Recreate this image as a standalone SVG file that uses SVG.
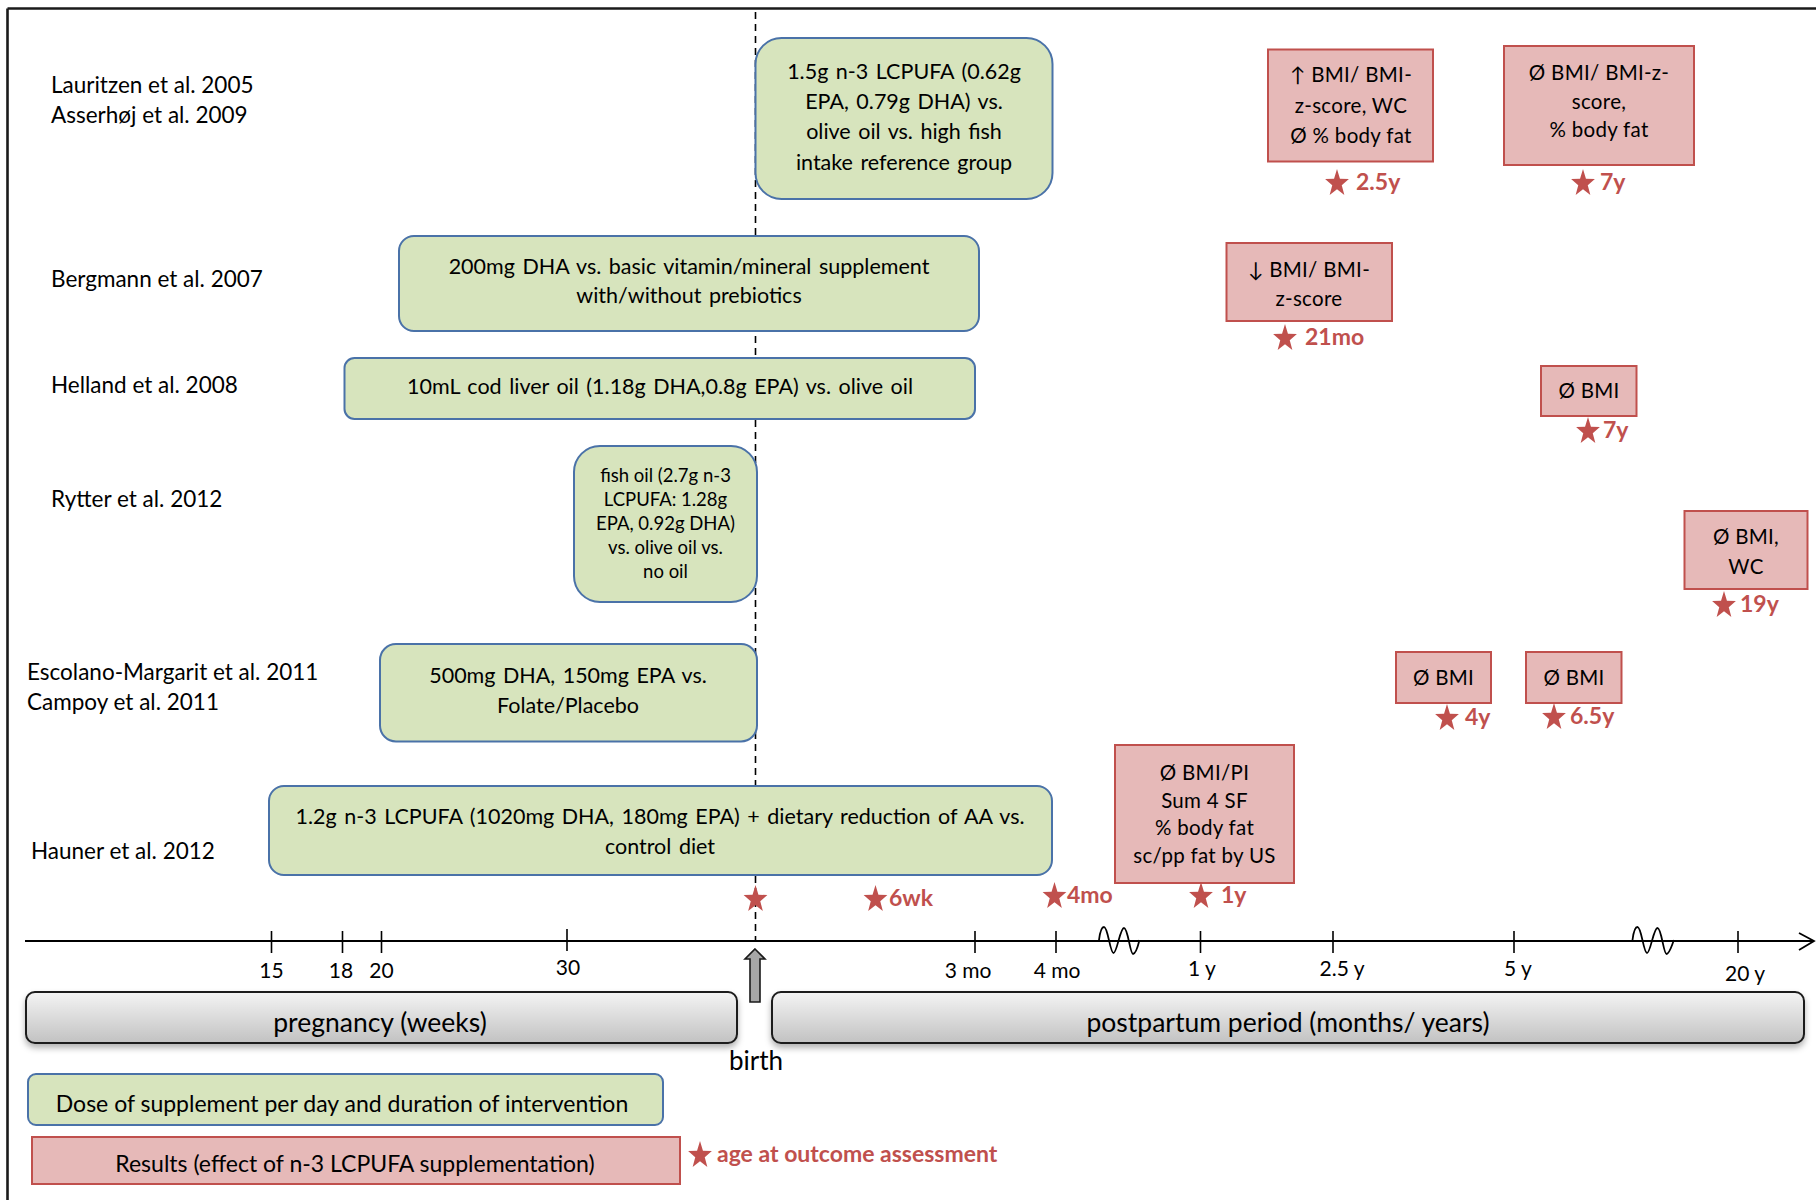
<svg xmlns="http://www.w3.org/2000/svg" width="1816" height="1200" viewBox="0 0 1816 1200">
<style>
text{font-family:Lato,"DejaVu Sans",sans-serif;fill:#000}
.lbl{font-size:22.5px}
.bx{font-size:21.5px;word-spacing:2px;text-anchor:middle}
.bxs{font-size:18.5px;text-anchor:middle}
.rb{font-size:20.5px;letter-spacing:0.3px;text-anchor:middle}
.st{font-size:23px;font-weight:bold;fill:#c0504d}
.tk{font-size:21px;text-anchor:middle}
.bar{font-size:26.5px;text-anchor:middle}
.lg{font-size:23px;text-anchor:middle}
.g{fill:#d7e4bd;stroke:#4a72a8;stroke-width:2}
.r{fill:#e6b9b8;stroke:#c0504d;stroke-width:2}
.tick{stroke:#000;stroke-width:1.6}
.pb{fill:url(#barg);stroke:#1a1a1a;stroke-width:2;filter:url(#sh)}
</style>
<defs>
<linearGradient id="barg" x1="0" y1="0" x2="0" y2="1">
<stop offset="0" stop-color="#f4f4f4"/>
<stop offset="1" stop-color="#c2c2c2"/>
</linearGradient>
<filter id="sh" x="-5%" y="-20%" width="110%" height="160%">
<feDropShadow dx="0" dy="4" stdDeviation="3" flood-color="#000" flood-opacity="0.3"/>
</filter>
<polygon id="star" fill="#c0504d" points="0,-13 2.94,-3.26 11.89,-3.04 4.76,3.18 7.35,13.03 0,7.15 -7.35,13.03 -4.76,3.18 -11.89,-3.04 -2.94,-3.26"/>
</defs>
<rect width="1816" height="1200" fill="#fff"/>
<!-- frame -->
<g id="frame" stroke="#1a1a1a" stroke-width="2.6" fill="none">
<line x1="7.5" y1="8.5" x2="1816" y2="8.5"/>
<line x1="7.5" y1="8.5" x2="7.5" y2="1200"/>
</g>
<!-- connectors / axis -->
<g id="connectors">
<line x1="755.5" y1="12" x2="755.5" y2="940" stroke="#000" stroke-width="1.6" stroke-dasharray="7,5"/>
<line x1="25" y1="941" x2="1813" y2="941" stroke="#000" stroke-width="2.2"/>
<polyline points="1799,933 1814,941 1799,950" fill="none" stroke="#000" stroke-width="1.8"/>
<g class="tick">
<line x1="271.5" y1="931" x2="271.5" y2="953"/>
<line x1="342.5" y1="931" x2="342.5" y2="953"/>
<line x1="381.5" y1="931" x2="381.5" y2="953"/>
<line x1="567" y1="929" x2="567" y2="951"/>
<line x1="975" y1="931" x2="975" y2="953"/>
<line x1="1056" y1="931" x2="1056" y2="953"/>
<line x1="1200.5" y1="931" x2="1200.5" y2="953"/>
<line x1="1333" y1="931" x2="1333" y2="953"/>
<line x1="1514" y1="931" x2="1514" y2="953"/>
<line x1="1738" y1="931" x2="1738" y2="953"/>
</g>
<path d="M1099,940 C1100,932 1102,927 1104,927 C1108,927 1110,953 1113.5,953 C1117,953 1120,928 1124,928 C1128,928 1130,954 1133,954 C1136,954 1138,946 1139.5,940" fill="none" stroke="#000" stroke-width="1.8"/>
<path d="M1632.5,940 C1633.5,932 1635.5,927 1637.5,927 C1641.5,927 1643.5,953 1647,953 C1650.5,953 1653.5,928 1657.5,928 C1661.5,928 1663.5,954 1666.5,954 C1669.5,954 1671.5,946 1674,940" fill="none" stroke="#000" stroke-width="1.8"/>
<polygon id="birth-arrow" points="755,949 765,959 760,959 760,1002 750,1002 750,959 745,959" fill="#a6a6a6" stroke="#1a1a1a" stroke-width="1.6"/>
</g>
<!-- tick labels -->
<g id="tick-labels">
<text class="tk" x="271.5" y="978">15</text>
<text class="tk" x="341" y="978">18</text>
<text class="tk" x="381.5" y="978">20</text>
<text class="tk" x="568" y="975">30</text>
<text class="tk" x="968" y="978">3 mo</text>
<text class="tk" x="1057" y="978">4 mo</text>
<text class="tk" x="1202" y="976">1 y</text>
<text class="tk" x="1342" y="976">2.5 y</text>
<text class="tk" x="1518" y="976">5 y</text>
<text class="tk" x="1745" y="981">20 y</text>
</g>
<!-- study labels -->
<g id="study-labels">
<text class="lbl" x="51" y="93">Lauritzen et al. 2005</text>
<text class="lbl" x="51" y="123">Asserhøj et al. 2009</text>
<text class="lbl" x="51" y="287">Bergmann et al. 2007</text>
<text class="lbl" x="51" y="393">Helland et al. 2008</text>
<text class="lbl" x="51" y="507">Rytter et al. 2012</text>
<text class="lbl" x="27" y="680">Escolano-Margarit et al. 2011</text>
<text class="lbl" x="27" y="710">Campoy et al. 2011</text>
<text class="lbl" x="31" y="859">Hauner et al. 2012</text>
</g>
<!-- intervention boxes -->
<g id="int-lauritzen">
<rect class="g" x="755.5" y="38" width="297" height="161" rx="26"/>
<text class="bx" x="904" y="79">1.5g n-3 LCPUFA (0.62g</text>
<text class="bx" x="904" y="109">EPA, 0.79g DHA) vs.</text>
<text class="bx" x="904" y="139">olive oil vs. high fish</text>
<text class="bx" x="904" y="170">intake reference group</text>
</g>
<g id="int-bergmann">
<rect class="g" x="399" y="236" width="580" height="95" rx="15"/>
<text class="bx" x="689" y="273.5">200mg DHA vs. basic vitamin/mineral supplement</text>
<text class="bx" x="689" y="303">with/without prebiotics</text>
</g>
<g id="int-helland">
<rect class="g" x="344.5" y="358" width="630.5" height="61" rx="10"/>
<text class="bx" x="660" y="394">10mL cod liver oil (1.18g DHA,0.8g EPA) vs. olive oil</text>
</g>
<g id="int-rytter">
<rect class="g" x="574" y="446" width="183" height="156" rx="26"/>
<text class="bxs" x="665.5" y="481.5">fish oil (2.7g n-3</text>
<text class="bxs" x="665.5" y="505.5">LCPUFA: 1.28g</text>
<text class="bxs" x="665.5" y="529.5">EPA, 0.92g DHA)</text>
<text class="bxs" x="665.5" y="553.5">vs. olive oil vs.</text>
<text class="bxs" x="665.5" y="578">no oil</text>
</g>
<g id="int-escolano">
<rect class="g" x="380" y="644" width="377" height="97.5" rx="16"/>
<text class="bx" x="568" y="683">500mg DHA, 150mg EPA vs.</text>
<text class="bx" x="568" y="713">Folate/Placebo</text>
</g>
<g id="int-hauner">
<rect class="g" x="269" y="786" width="783" height="89" rx="15"/>
<text class="bx" x="660" y="823.5">1.2g n-3 LCPUFA (1020mg DHA, 180mg EPA) + dietary reduction of AA vs.</text>
<text class="bx" x="660" y="853.5">control diet</text>
</g>
<!-- result boxes -->
<g id="res-lauritzen-25y">
<rect class="r" x="1268" y="49.5" width="165" height="112"/>
<text class="rb" x="1351" y="82">↑ BMI/ BMI-</text>
<text class="rb" x="1351" y="112.5">z-score, WC</text>
<text class="rb" x="1351" y="143">Ø % body fat</text>
</g>
<g id="res-asserhoj-7y">
<rect class="r" x="1504" y="46" width="190" height="119"/>
<text class="rb" x="1599" y="80">Ø BMI/ BMI-z-</text>
<text class="rb" x="1599" y="108.5">score,</text>
<text class="rb" x="1599" y="137">% body fat</text>
</g>
<g id="res-bergmann">
<rect class="r" x="1226.5" y="243" width="165.5" height="78"/>
<text class="rb" x="1309" y="277">↓ BMI/ BMI-</text>
<text class="rb" x="1309" y="306">z-score</text>
</g>
<g id="res-helland">
<rect class="r" x="1541" y="366" width="95.5" height="50"/>
<text class="rb" x="1589" y="398">Ø BMI</text>
</g>
<g id="res-rytter">
<rect class="r" x="1684.5" y="511" width="123" height="78"/>
<text class="rb" x="1746" y="544">Ø BMI,</text>
<text class="rb" x="1746" y="574">WC</text>
</g>
<g id="res-escolano-4y">
<rect class="r" x="1396" y="652" width="95" height="51"/>
<text class="rb" x="1443.5" y="685">Ø BMI</text>
</g>
<g id="res-campoy-65y">
<rect class="r" x="1526" y="652" width="95.5" height="51"/>
<text class="rb" x="1574" y="685">Ø BMI</text>
</g>
<g id="res-hauner">
<rect class="r" x="1115" y="745" width="179" height="138"/>
<text class="rb" x="1204.5" y="779.5">Ø BMI/PI</text>
<text class="rb" x="1204.5" y="808">Sum 4 SF</text>
<text class="rb" x="1204.5" y="834.5">% body fat</text>
<text class="rb" x="1204.5" y="863">sc/pp fat by US</text>
</g>
<!-- assessment stars -->
<g id="stars">
<use href="#star" x="1337" y="182"/><text class="st" x="1356" y="190">2.5y</text>
<use href="#star" x="1583" y="182"/><text class="st" x="1600" y="190">7y</text>
<use href="#star" x="1285" y="337"/><text class="st" x="1305" y="345">21mo</text>
<use href="#star" x="1588" y="430"/><text class="st" x="1603" y="438">7y</text>
<use href="#star" x="1724" y="604"/><text class="st" x="1740" y="612">19y</text>
<use href="#star" x="1447" y="717"/><text class="st" x="1465" y="725">4y</text>
<use href="#star" x="1554" y="716"/><text class="st" x="1570" y="724">6.5y</text>
<use href="#star" x="755.5" y="898"/>
<use href="#star" x="875.5" y="898"/><text class="st" x="889" y="906">6wk</text>
<use href="#star" x="1054.5" y="895"/><text class="st" x="1067" y="903">4mo</text>
<use href="#star" x="1201" y="895"/><text class="st" x="1221" y="903">1y</text>
</g>
<!-- period bars -->
<g id="bar-pregnancy">
<rect class="pb" x="26" y="992" width="711" height="51" rx="9"/>
<text class="bar" x="380" y="1032">pregnancy (weeks)</text>
</g>
<g id="bar-postpartum">
<rect class="pb" x="772" y="992" width="1032" height="51" rx="9"/>
<text class="bar" x="1288" y="1032">postpartum period (months/ years)</text>
</g>
<text id="birth" class="bar" x="756" y="1070" style="font-size:26px">birth</text>
<!-- legend -->
<g id="legend-dose">
<rect class="g" x="28" y="1074" width="635" height="51" rx="8"/>
<text class="lg" x="342" y="1112">Dose of supplement per day and duration of intervention</text>
</g>
<g id="legend-results">
<rect class="r" x="32" y="1137" width="648" height="47"/>
<text class="lg" x="355" y="1172">Results (effect of n-3 LCPUFA supplementation)</text>
</g>
<g id="legend-star">
<use href="#star" x="700" y="1154"/>
<text class="st" x="717" y="1162">age at outcome assessment</text>
</g>
</svg>
